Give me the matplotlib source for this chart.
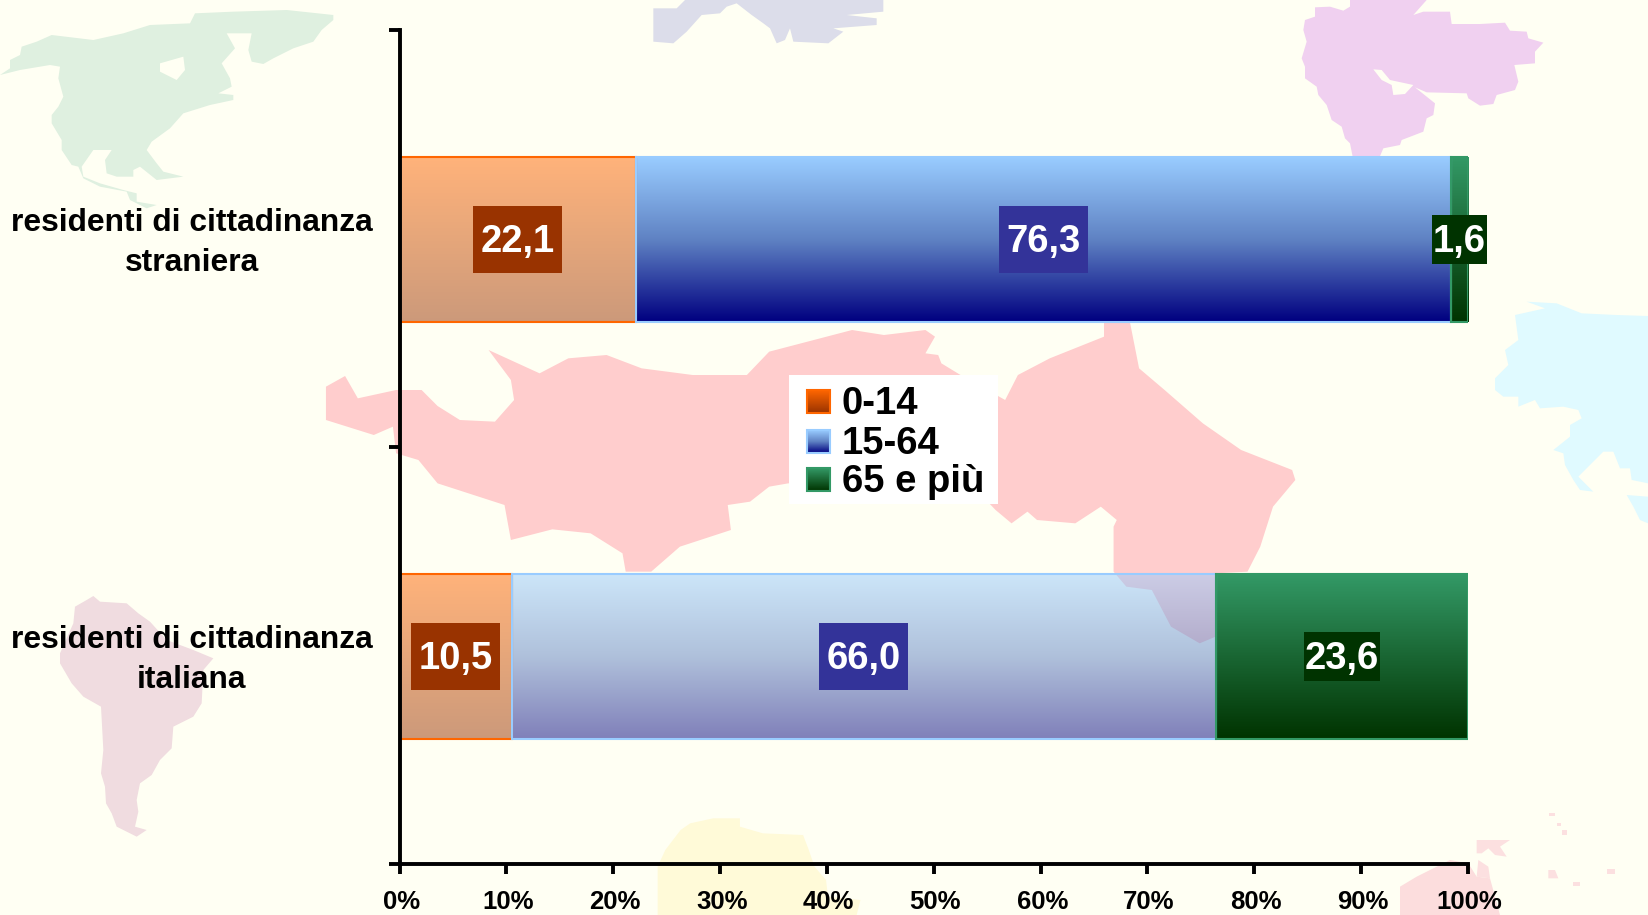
import matplotlib
matplotlib.use('Agg')
import matplotlib.pyplot as plt
import numpy as np
from matplotlib.colors import to_rgb
from matplotlib.patches import Polygon, Rectangle
from matplotlib.transforms import ScaledTranslation

plt.rcParams['font.family'] = ['Liberation Sans', 'DejaVu Sans']
plt.rcParams['font.weight'] = 'bold'

# --- data ---
categories = ['residenti di cittadinanza\nstraniera', 'residenti di cittadinanza\nitaliana']
age_groups = ['0-14', '15-64', '65 e più']
share_0_14 = [22.1, 10.5]
share_15_64 = [76.3, 66.0]
share_65_piu = [1.6, 23.6]
x_tick_values = [0, 10, 20, 30, 40, 50, 60, 70, 80, 90, 100]

# --- styles ---
BG = '#FFFFF3'
W, H = 1648, 915
AX_L, AX_R, AX_T, AX_B = 399.5, 1468, 30, 864
gradients = [('#FF6600', '#993300'), ('#99CCFF', '#5F82C3', '#000080'), ('#339966', '#003300')]
edges = ['#FF6600', '#99CCFF', '#339966']
label_bg = ['#993300', '#333399', '#003300']
# alpha of each segment: row 0 = straniera, row 1 = italiana
seg_alpha = [[0.5, 1.0, 1.0], [0.5, 0.5, 1.0]]
# size in pixels of the label boxes
box_px = [[(89, 67), (89, 67), (55, 49)], [(89, 67), (89, 67), (76, 49)]]

# --- background map, traced in pixels (zoom coordinates: origin + value / scale) ---
def trace(pts, ox, oy, sx=3.0, sy=3.0):
    return [(ox + a / sx, oy + b / sy) for a, b in pts]

north_america = trace([(0, 225), (30, 205), (30, 180), (60, 165), (65, 140), (110, 125), (155, 105), (280, 120),
    (370, 100), (450, 75), (570, 70), (585, 40), (700, 35), (860, 30), (1000, 45), (1000, 60), (965, 90), (940, 125),
    (880, 145), (820, 175), (790, 192), (755, 185), (745, 150), (755, 100), (680, 100), (705, 145), (665, 190),
    (690, 235), (695, 260), (655, 280), (700, 285), (700, 300), (630, 315), (550, 340), (510, 385), (455, 425),
    (440, 450), (470, 490), (490, 515), (550, 530), (470, 540), (420, 500), (400, 510), (400, 530), (350, 530),
    (320, 520), (315, 480), (335, 450), (280, 450), (245, 500), (250, 530), (300, 550), (370, 570), (410, 580),
    (410, 605), (470, 615), (440, 625), (390, 600), (380, 575), (300, 560), (250, 535), (235, 500), (215, 495),
    (185, 450), (185, 420), (155, 370), (155, 345), (175, 320), (190, 290), (175, 235), (180, 200), (150, 195),
    (60, 210)], 0, 0)
hudson = trace([(480, 190), (550, 170), (555, 210), (530, 240), (480, 215)], 0, 0)

asia = trace([(300, 0), (530, 0), (490, 45), (520, 35), (600, 35), (605, 72), (690, 72), (765, 68), (780, 92),
    (830, 95), (835, 115), (880, 128), (855, 155), (855, 190), (793, 195), (805, 245), (795, 270), (740, 285),
    (730, 312), (690, 317), (655, 295), (650, 280), (530, 277), (495, 262), (555, 310), (550, 345), (530, 355),
    (520, 395), (455, 420), (450, 435), (400, 445), (385, 480), (310, 480), (300, 430), (285, 415), (275, 380),
    (245, 360), (230, 315), (205, 285), (200, 260), (165, 235), (165, 200), (155, 175), (170, 125), (160, 90),
    (165, 60), (195, 50), (195, 22), (240, 20), (280, 32), (300, 20)], 1250, 0)
gulf = trace([(370, 208), (395, 210), (420, 240), (490, 255), (465, 282), (430, 285), (425, 255), (395, 240)], 1250, 0)

centro = trace([(25, 200), (55, 168), (75, 235), (135, 210), (175, 210), (200, 258), (235, 300), (290, 305),
    (320, 240), (315, 180), (280, 90), (360, 160), (405, 115), (465, 105), (520, 145), (600, 165), (685, 165),
    (720, 95), (780, 65), (850, 30), (900, 45), (965, 30), (980, 50), (965, 100), (985, 105), (990, 130), (1020, 165),
    (1090, 240), (1110, 165), (1160, 115), (1245, 50), (1245, 0), (1285, 0), (1300, 145), (1340, 210), (1400, 310),
    (1460, 390), (1540, 450), (1545, 480), (1510, 560), (1490, 680), (1470, 755), (1420, 760), (1420, 950),
    (1395, 970), (1350, 920), (1320, 810), (1280, 800), (1260, 755), (1260, 620), (1265, 600), (1240, 560),
    (1200, 610), (1140, 600), (1125, 575), (1100, 610), (1075, 570), (1040, 500), (750, 490), (720, 500), (690, 545),
    (655, 555), (660, 630), (580, 680), (535, 755), (495, 755), (490, 700), (440, 640), (380, 628), (315, 660),
    (305, 555), (200, 490), (170, 420), (135, 400), (130, 320), (100, 345), (25, 300)], 310, 320, 1.568, 3.0)

south_america = trace([(280, 78), (300, 95), (380, 100), (415, 130), (450, 155), (500, 210), (580, 240), (640, 265),
    (610, 300), (605, 400), (580, 440), (520, 470), (515, 535), (480, 570), (455, 615), (420, 640), (410, 690),
    (415, 725), (405, 770), (440, 780), (410, 800), (350, 770), (335, 730), (318, 700), (315, 650), (303, 610),
    (310, 540), (303, 410), (250, 380), (215, 340), (180, 280), (180, 250), (220, 160), (225, 110), (260, 90)], 0, 570)

pacific = trace([(380, 65), (470, 70), (545, 100), (650, 105), (744, 108), (744, 610), (720, 605), (695, 600),
    (690, 565), (660, 565), (640, 515), (610, 515), (560, 565), (535, 590), (580, 635), (540, 630), (520, 600),
    (495, 555), (490, 520), (460, 510), (510, 470), (510, 435), (545, 415), (535, 390), (490, 380), (420, 385),
    (405, 360), (355, 380), (355, 350), (310, 350), (285, 330), (285, 295), (325, 255), (315, 210), (355, 180),
    (345, 105), (435, 85)], 1400, 280)
pacific2 = trace([(680, 645), (744, 650), (744, 730), (720, 720), (700, 680)], 1400, 280)

africa = trace([(830, 345), (830, 200), (850, 150), (890, 90), (915, 70), (975, 55), (1045, 55), (1045, 80),
    (1105, 100), (1210, 105), (1225, 150), (1240, 200), (1270, 240), (1275, 290), (1360, 300), (1350, 345)],
    340, 800, 2.613, 3.0)

oceania = trace([(0, 320), (50, 290), (100, 265), (150, 240), (205, 250), (230, 290), (270, 295), (300, 405), (0, 405)], 1400, 780)
oceania_bits = [trace(p, 1400, 780) for p in [
    [(230, 180), (330, 180), (300, 200), (320, 230), (285, 225), (265, 205), (245, 220), (230, 220)],
    [(235, 240), (265, 260), (270, 295), (230, 290)],
    [(445, 270), (465, 270), (475, 295), (445, 295)],
    [(520, 305), (540, 305), (540, 318), (520, 318)],
    [(620, 268), (645, 268), (645, 283), (620, 283)],
    [(470, 130), (482, 130), (482, 137), (470, 137)],
    [(448, 100), (465, 100), (465, 107), (448, 107)],
    [(485, 150), (500, 150), (500, 165), (485, 165)]]]

europa = trace([(195, 0), (790, 0), (790, 35), (680, 45), (770, 55), (770, 75), (640, 85), (670, 95), (625, 130),
    (520, 125), (510, 85), (495, 120), (470, 130), (450, 85), (430, 70), (395, 45), (350, 10), (320, 20), (300, 40),
    (245, 45), (200, 95), (160, 130), (100, 125), (100, 25), (170, 25)], 620, 0)

# --- figure ---
fig = plt.figure(figsize=(W / 100, H / 100), dpi=100, facecolor=BG)

# background axes in pixel coordinates
bg_ax = fig.add_axes([0, 0, 1, 1], zorder=0)
bg_ax.set_xlim(0, W)
bg_ax.set_ylim(H, 0)
bg_ax.axis('off')
map_shapes = [(north_america, '#DFF0E0'), (hudson, BG), (asia, '#F0D0F0'), (gulf, BG), (centro, '#FFCDCD'),
              (south_america, '#F0DCE0'), (pacific, '#E0FAFF'), (pacific2, '#E0FAFF'), (africa, '#FFFAD8'),
              (oceania, '#FCDDDD'), (europa, '#DCDDEA')]
map_shapes += [(p, '#FCE0E0') for p in oceania_bits]
for pts, col in map_shapes:
    bg_ax.add_patch(Polygon(pts, closed=True, facecolor=col, edgecolor='none'))

# main axes
ax = fig.add_axes([AX_L / W, 1 - AX_B / H, (AX_R - AX_L) / W, (AX_B - AX_T) / H], zorder=1)
ax.patch.set_alpha(0)
ax.set_xlim(0, 100)
ax.set_ylim(2, 0)
px_x = (AX_R - AX_L) / 100
px_y = (AX_B - AX_T) / 2


def gradient_image(stops, alpha):
    cols = np.array([to_rgb(c) for c in stops])
    t = np.linspace(0, 1, 128)
    pos = np.linspace(0, 1, len(stops))
    img = np.stack([np.interp(t, pos, cols[:, k]) for k in range(3)], axis=1)[:, None, :]
    return np.dstack([img, np.full((128, 1), alpha)])


y_pos = np.array([0.503, 1.503])
series = np.array([share_0_14, share_15_64, share_65_piu])
# 100% stacked: every row is normalised on its own total
norm = series / series.sum(axis=0) * 100
left = np.zeros(2)
for i, name in enumerate(age_groups):
    bars = ax.barh(y_pos, norm[i], left=left, height=0.395, facecolor='none', edgecolor=edges[i], linewidth=1.5, zorder=3)
    for j, bar in enumerate(bars):
        bb = bar.get_bbox()
        ax.imshow(gradient_image(gradients[i], seg_alpha[j][i]), extent=[bb.x0, bb.x1, max(bb.y0, bb.y1), min(bb.y0, bb.y1)],
                  aspect='auto', interpolation='bilinear', zorder=2)
        # label box, centred on the segment
        cx = bb.x0 + (bb.x1 - bb.x0) / 2
        cy = y_pos[j]
        w_px, h_px = box_px[j][i]
        ax.add_patch(Rectangle((cx - w_px / px_x / 2, cy - h_px / px_y / 2), w_px / px_x, h_px / px_y,
                               facecolor=label_bg[i], edgecolor='none', zorder=4, clip_on=False))
        ax.text(cx, cy - 1.5 / px_y, f'{series[i][j]:.1f}'.replace('.', ','), color='white', fontsize=27.5,
                fontweight='bold', ha='center', va='center_baseline', zorder=5)
    left = left + norm[i]

ax.set_xlim(0, 100)
ax.set_ylim(2, 0)

# axes, ticks
for s in ['top', 'right']:
    ax.spines[s].set_visible(False)
for s in ['left', 'bottom']:
    ax.spines[s].set_linewidth(2.8)
    ax.spines[s].set_zorder(6)
ax.set_xticks(x_tick_values)
ax.set_xticklabels([f'{v}%' for v in x_tick_values], fontsize=18.5, fontweight='bold')
ax.tick_params(axis='x', length=7.5, width=2.8, pad=11)
shift = ScaledTranslation(1.2 / 72, 0, fig.dpi_scale_trans)
for lab in ax.get_xticklabels():
    lab.set_transform(lab.get_transform() + shift)
ax.set_yticks([0, 1, 2])
ax.set_yticklabels([])
ax.tick_params(axis='y', which='major', length=8, width=2.8)
ax.set_yticks([0.49, 1.49], minor=True)
ax.set_yticklabels(categories, minor=True, fontsize=22.9, fontweight='bold', ha='center', linespacing=1.45)
ax.tick_params(axis='y', which='minor', length=0, pad=(AX_L - 192) * 0.72)

# legend in pixel coordinates, with gradient swatches
leg_ax = fig.add_axes([0, 0, 1, 1], zorder=2)
leg_ax.patch.set_alpha(0)
leg_ax.set_xlim(0, W)
leg_ax.set_ylim(H, 0)
leg_ax.axis('off')
leg_ax.add_patch(Rectangle((789, 375), 209, 129, facecolor='white', edgecolor='none', zorder=1))
sw_top = [390, 430, 468]
baselines = [414, 454, 492]
for i, name in enumerate(age_groups):
    leg_ax.imshow(gradient_image(gradients[i], 1.0), extent=[807, 830, sw_top[i] + 23, sw_top[i]],
                  aspect='auto', interpolation='bilinear', zorder=2)
    leg_ax.add_patch(Rectangle((807, sw_top[i]), 23, 23, facecolor='none', edgecolor=edges[i], linewidth=1.5, zorder=3))
    leg_ax.text(842, baselines[i], name, fontsize=27.5, fontweight='bold', color='black', ha='left', va='baseline', zorder=3)
leg_ax.set_xlim(0, W)
leg_ax.set_ylim(H, 0)

fig.savefig('out.png', dpi=100, facecolor=BG)
